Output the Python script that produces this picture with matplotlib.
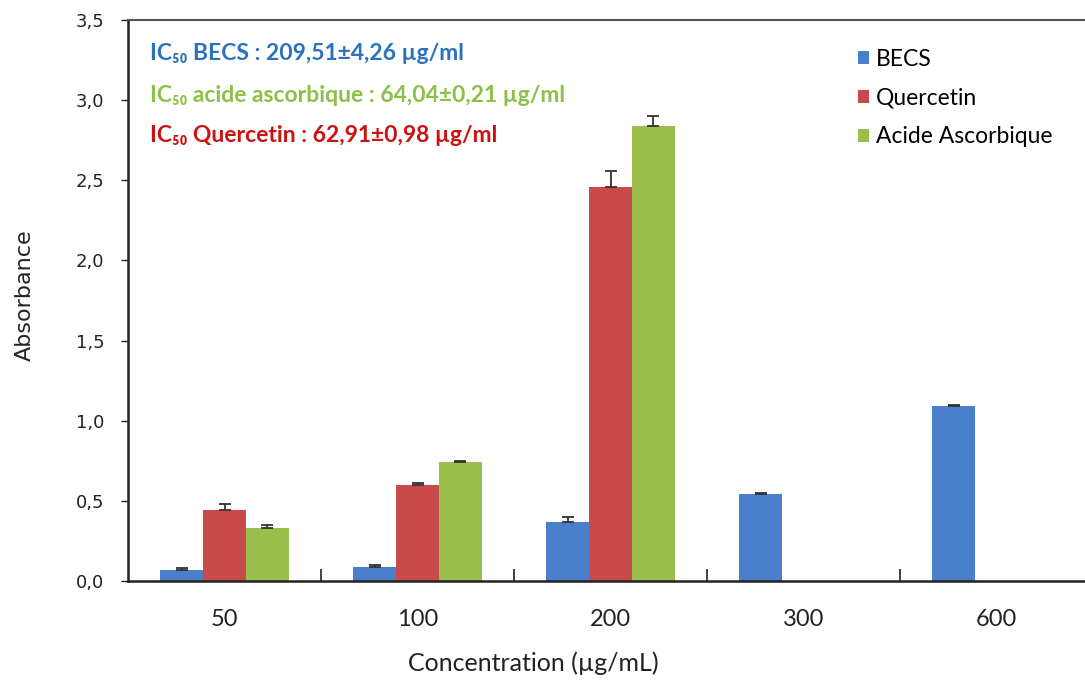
import numpy as np
import matplotlib
matplotlib.use("Agg")
import matplotlib.pyplot as plt
from matplotlib.patches import Patch

# Data
concentrations = ["50", "100", "200", "300", "600"]
becs = [0.07, 0.09, 0.37, 0.54, 1.09]
becs_err = [0.01, 0.01, 0.03, 0.01, 0.01]
quercetin = [0.44, 0.60, 2.46, np.nan, np.nan]
quercetin_err = [0.04, 0.01, 0.10, 0.0, 0.0]
ascorbic = [0.33, 0.74, 2.84, np.nan, np.nan]
ascorbic_err = [0.02, 0.01, 0.06, 0.0, 0.0]
series_names = ["BECS", "Quercetin", "Acide Ascorbique"]
y_ticks = [0.0, 0.5, 1.0, 1.5, 2.0, 2.5, 3.0, 3.5]
ic50_lines = [
    ("IC\u2085\u2080 BECS : 209,51\u00b14,26 \u00b5g/ml", "#2a72bf"),
    ("IC\u2085\u2080 acide ascorbique : 64,04\u00b10,21 \u00b5g/ml", "#8cc048"),
    ("IC\u2085\u2080 Quercetin : 62,91\u00b10,98 \u00b5g/ml", "#cc1111"),
]

colors = ["#4a7fcb", "#c84b4a", "#9bbf4c"]
fam = ["Lato", "DejaVu Sans"]

fig = plt.figure(figsize=(10.85, 6.82), dpi=100)
ax = fig.add_axes([128 / 1085, 101 / 682, 965 / 1085, 561 / 682])

x = np.arange(len(concentrations))
w = 0.222
for i, (vals, errs) in enumerate([(becs, becs_err), (quercetin, quercetin_err), (ascorbic, ascorbic_err)]):
    vals = np.array(vals, dtype=float)
    errs = np.array(errs, dtype=float)
    mask = ~np.isnan(vals)
    pos = x[mask] + (i - 1) * w
    ax.bar(pos, vals[mask], width=w, color=colors[i], edgecolor="none", zorder=2)
    ax.errorbar(pos, vals[mask], yerr=[np.zeros(mask.sum()), errs[mask]],
                fmt="none", ecolor="#333333", elinewidth=1.3, capsize=4,
                capthick=1.3, zorder=3)

ax.set_xlim(-0.5, 4.5)
ax.set_ylim(0, 3.5)
ax.set_yticks(y_ticks)
ax.set_yticklabels([f"{v:.1f}".replace(".", ",") for v in y_ticks],
                   family=["DejaVu Sans"], fontsize=13, color="#222222")
ax.set_xticks(x)
ax.set_xticklabels(concentrations, family=fam, fontsize=17, color="#222222")
ax.set_xticks(np.arange(0.5, 4.5, 1.0), minor=True)
ax.tick_params(axis="x", which="major", length=0, pad=20)
ax.tick_params(axis="x", which="minor", direction="in", length=9, width=1.2, color="#222222")
ax.tick_params(axis="y", direction="out", length=5, width=1, color="#222222", pad=12)

for side in ["left", "bottom", "top"]:
    ax.spines[side].set_color("#222222")
    ax.spines[side].set_linewidth(1.8)
ax.spines["top"].set_color("#555555")
ax.spines["top"].set_linewidth(1.5)
ax.spines["right"].set_visible(False)

# Axis titles
fig.text(533 / 1085, 1 - 663 / 682, "Concentration (\u00b5g/mL)", family=fam,
         fontsize=18, color="#222222", ha="center", va="center")
fig.text(25 / 1085, 1 - 295 / 682, "Absorbance", family=["DejaVu Sans"],
         fontsize=16, color="#222222", ha="center", va="center", rotation=90)

# IC50 annotations
for (txt, col), ypix in zip(ic50_lines, [53, 95, 136]):
    fig.text(150 / 1085, 1 - ypix / 682, txt, color=col, fontsize=16.5,
             fontweight="bold", family=fam, va="center", ha="left")

handles = [Patch(facecolor=c, edgecolor="none") for c in colors]
ax.legend(handles, series_names, loc="upper left",
          bbox_to_anchor=(837 / 1085, 1 - 28 / 682), bbox_transform=fig.transFigure,
          frameon=False, prop={"family": fam, "size": 16.5},
          handlelength=0.5, handleheight=0.5, handletextpad=0.3, labelspacing=0.78)

fig.savefig("out.png", dpi=100)
